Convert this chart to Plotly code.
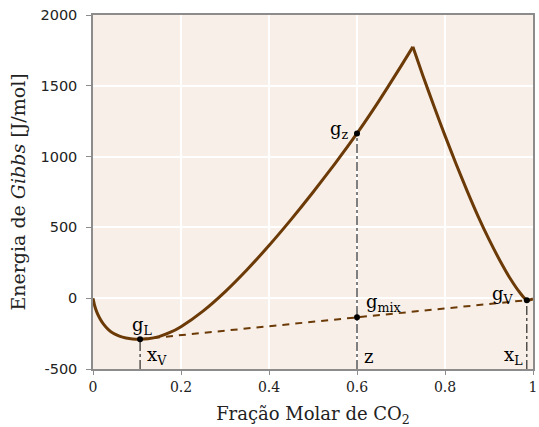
import plotly.graph_objects as go

# Gibbs energy curve
left_x = [0, 0.004, 0.008, 0.015, 0.023, 0.035, 0.046, 0.06, 0.075, 0.09, 0.107,
          0.125, 0.15, 0.175, 0.2, 0.25, 0.3, 0.35, 0.4, 0.45, 0.5, 0.55, 0.6,
          0.65, 0.7, 0.727]
left_y = [0, -55, -93, -140, -180, -222, -248, -268, -281, -288, -290,
          -287, -271, -242, -201, -91, 45, 201, 372, 555, 748, 951, 1164,
          1394, 1639, 1775]
right_x = [0.727, 0.75, 0.775, 0.8, 0.825, 0.85, 0.875, 0.9, 0.925, 0.95, 0.97, 0.986, 1.0]
right_y = [1775, 1570, 1355, 1148, 950, 760, 580, 415, 265, 130, 40, -14, -5]

# key points
xV, gL = 0.107, -290
xL, gV = 0.986, -14
z, gz, gmix = 0.6, 1164, -134

x_ticks = [0, 0.2, 0.4, 0.6, 0.8, 1.0]
x_ticktext = ["0", "0.2", "0.4", "0.6", "0.8", "1"]
y_ticks = [-500, 0, 500, 1000, 1500, 2000]
y_ticktext = ["-500", "0", "500", "1000", "1500", "2000"]

brown = "#6B3A07"
serif = "DejaVu Serif"

fig = go.Figure()
fig.add_trace(go.Scatter(x=left_x, y=left_y, mode="lines",
                         line=dict(color=brown, width=3, shape="spline", smoothing=0.6)))
fig.add_trace(go.Scatter(x=right_x, y=right_y, mode="lines",
                         line=dict(color=brown, width=3, shape="spline", smoothing=0.6)))
# tie line
fig.add_trace(go.Scatter(x=[xV, xL], y=[gL, gV], mode="lines",
                         line=dict(color=brown, width=2, dash="7px,6px")))
# vertical dash-dot lines
for xv, yv in [(xV, gL), (z, gz), (xL, gV)]:
    fig.add_trace(go.Scatter(x=[xv, xv], y=[-500, yv], mode="lines",
                             line=dict(color="black", width=1, dash="dashdot")))
# points
fig.add_trace(go.Scatter(x=[xV, z, z, xL], y=[gL, gz, gmix, gV], mode="markers",
                         marker=dict(color="black", size=6)))

labels = [
    ("g<sub>L</sub>", 0.112, -198),
    ("x<sub>V</sub>", 0.146, -410),
    ("g<sub>z</sub>", 0.560, 1188),
    ("g<sub>mix</sub>", 0.661, -35),
    ("z", 0.626, -410),
    ("g<sub>V</sub>", 0.931, 21),
    ("x<sub>L</sub>", 0.956, -410),
]
for t, ax, ay in labels:
    fig.add_annotation(x=ax, y=ay, text=t, showarrow=False,
                       font=dict(family=serif, size=18, color="black"))

fig.update_layout(
    width=539, height=427,
    margin=dict(l=93, r=2, t=15, b=58),
    paper_bgcolor="white", plot_bgcolor="#F8EFE8",
    showlegend=False,
    font=dict(family=serif, color="#222222"),
)
fig.update_xaxes(range=[0, 1], tickvals=x_ticks, ticktext=x_ticktext,
                 showgrid=True, gridcolor="white", gridwidth=1.5, zeroline=False,
                 showline=True, linecolor="#8C8C8C", linewidth=1.5, mirror=True,
                 ticks="outside", ticklen=4, tickcolor="#8C8C8C",
                 ticklabeloverflow="allow",
                 tickfont=dict(family=serif, size=14, color="#222222"),
                 title=dict(text="Fração Molar de CO<sub>2</sub>", standoff=14,
                            font=dict(family=serif, size=18, color="#222222")))
fig.update_yaxes(range=[-500, 2000], tickvals=y_ticks, ticktext=y_ticktext,
                 showgrid=True, gridcolor="white", gridwidth=1.5, zeroline=False,
                 showline=True, linecolor="#8C8C8C", linewidth=1.5, mirror=True,
                 ticks="outside", ticklen=5, tickcolor="#8C8C8C",
                 ticklabelstandoff=6,
                 tickfont=dict(family="DejaVu Sans", size=14.5, color="#222222"),
                 title=dict(text="Energia de <i>Gibbs</i> [J/mol]", standoff=10,
                            font=dict(family=serif, size=19, color="#222222")))

fig.write_html("out.html")
